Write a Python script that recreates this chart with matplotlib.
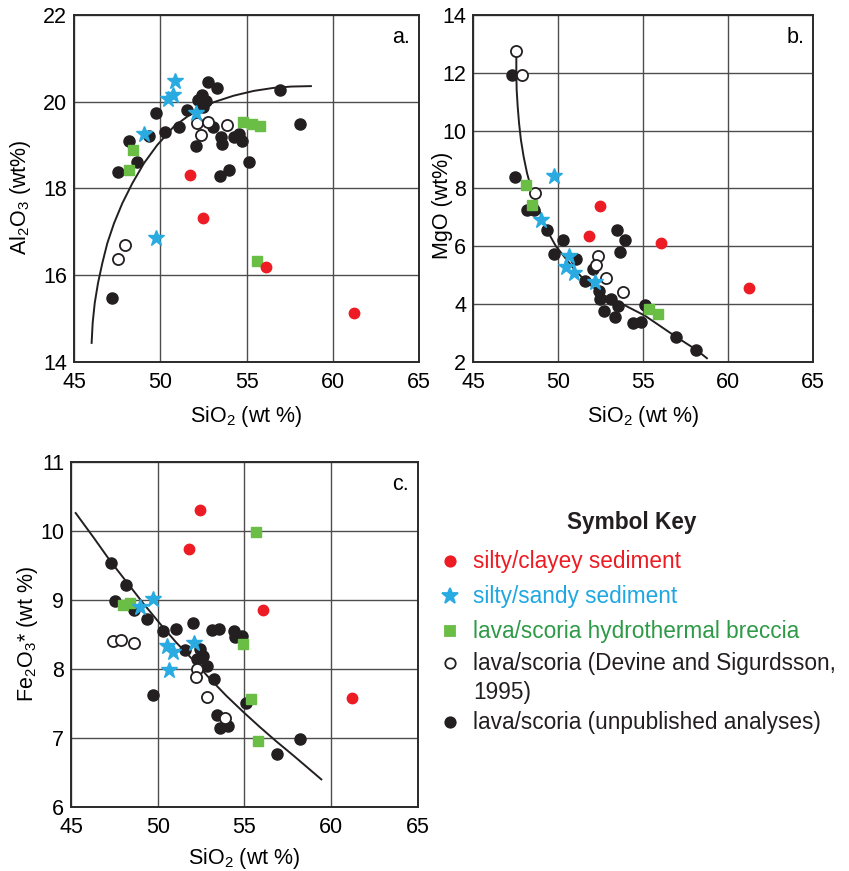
import numpy as np
import matplotlib
matplotlib.use('Agg')
import matplotlib.pyplot as plt

plt.rcParams['font.family'] = ['Liberation Sans', 'DejaVu Sans']
plt.rcParams['mathtext.fontset'] = 'custom'
plt.rcParams['mathtext.rm'] = 'Liberation Sans'
plt.rcParams['mathtext.it'] = 'Liberation Sans:italic'
plt.rcParams['mathtext.bf'] = 'Liberation Sans:bold'

RED = '#ed1c24'
BLUE = '#29abe2'
GREEN = '#6abd45'
BLACK = '#231f20'

# ---- panel a: Al2O3 vs SiO2 ----
a_black_x = [47.22, 47.53, 48.2, 48.67, 49.36, 49.75, 50.29, 51.08, 51.54, 52.05, 52.18, 52.39, 52.63,
             52.45, 52.76, 53.3, 53.07, 53.51, 53.59, 53.46, 54.0, 54.3, 54.56, 54.75, 55.17, 56.91, 58.07]
a_black_y = [15.48, 18.38, 19.1, 18.6, 19.21, 19.75, 19.3, 19.41, 19.82, 18.98, 20.04, 20.15, 20.02,
             19.87, 20.45, 20.32, 19.41, 19.19, 19.02, 18.28, 18.43, 19.18, 19.25, 19.1, 18.6, 20.27, 19.48]
a_open_x = [47.55, 47.93, 52.14, 52.78, 52.36, 53.84]
a_open_y = [16.38, 16.7, 19.52, 19.54, 19.24, 19.46]
a_star_x = [50.87, 50.75, 50.46, 49.03, 52.05, 49.75]
a_star_y = [20.48, 20.15, 20.07, 19.26, 19.73, 16.86]
a_sq_x = [48.44, 48.17, 54.81, 55.33, 55.79, 55.62]
a_sq_y = [18.88, 18.42, 19.54, 19.48, 19.45, 16.32]
a_red_x = [51.74, 52.49, 56.1, 61.2]
a_red_y = [18.3, 17.31, 16.2, 15.12]
a_fit_x = [46.02, 46.08, 46.2, 46.39, 46.64, 46.93, 47.32, 47.8, 48.38, 49.05, 49.82, 50.79,
           51.95, 53.1, 54.26, 55.42, 56.58, 57.6, 58.73]
a_fit_y = [14.44, 14.9, 15.36, 15.82, 16.28, 16.74, 17.2, 17.66, 18.12, 18.58, 19.0, 19.43,
           19.77, 19.99, 20.14, 20.25, 20.32, 20.35, 20.36]

# ---- panel b: MgO vs SiO2 ----
b_black_x = [47.27, 47.49, 48.18, 48.6, 49.35, 50.31, 49.78, 51.08, 51.59, 52.06, 52.39, 52.49,
             53.1, 52.73, 53.53, 53.35, 53.49, 53.92, 53.63, 54.4, 54.86, 55.12, 56.92, 58.14]
b_black_y = [11.94, 8.38, 7.24, 7.24, 6.57, 6.22, 5.75, 5.56, 4.81, 5.21, 4.46, 4.17,
             4.17, 3.78, 3.92, 3.55, 6.56, 6.21, 5.8, 3.34, 3.37, 3.97, 2.85, 2.4]
b_open_x = [47.53, 47.88, 48.63, 52.35, 52.25, 52.84, 53.84]
b_open_y = [12.74, 11.91, 7.86, 5.65, 5.36, 4.91, 4.41]
b_star_x = [49.76, 49.02, 50.67, 50.49, 50.94, 52.16]
b_star_y = [8.44, 6.9, 5.67, 5.3, 5.09, 4.75]
b_sq_x = [48.12, 48.45, 55.33, 55.88]
b_sq_y = [8.11, 7.43, 3.83, 3.67]
b_red_x = [52.49, 51.8, 56.08, 61.24]
b_red_y = [7.39, 6.35, 6.13, 4.56]
b_fit_x = [47.55, 47.55, 47.57, 47.63, 47.71, 47.82, 47.98, 48.18, 48.45, 48.81, 49.31, 49.88,
           50.29, 50.9, 51.59, 52.65, 53.63, 55.12, 56.92, 58.14, 58.76]
b_fit_y = [12.56, 11.98, 11.41, 10.83, 10.26, 9.68, 9.1, 8.53, 7.95, 7.38, 6.6, 6.0,
           5.7, 5.25, 4.81, 4.32, 4.05, 3.6, 2.88, 2.42, 2.13]

# ---- panel c: Fe2O3* vs SiO2 ----
c_black_x = [47.28, 48.19, 47.55, 48.61, 49.4, 50.3, 51.07, 52.02, 53.12, 53.52, 54.42, 54.48, 54.85,
             51.55, 52.43, 52.62, 52.24, 52.85, 53.25, 49.7, 55.11, 53.43, 53.58, 54.06, 56.88, 58.2]
c_black_y = [9.54, 9.22, 8.99, 8.85, 8.73, 8.55, 8.58, 8.67, 8.56, 8.58, 8.55, 8.46, 8.48,
             8.28, 8.29, 8.19, 8.14, 8.04, 7.86, 7.62, 7.5, 7.34, 7.14, 7.18, 6.77, 6.99]
c_open_x = [47.4, 47.86, 48.63, 52.24, 52.22, 52.85, 53.87]
c_open_y = [8.4, 8.42, 8.38, 8.0, 7.89, 7.59, 7.29]
c_star_x = [49.74, 48.97, 50.51, 50.89, 52.1, 50.64]
c_star_y = [9.01, 8.9, 8.33, 8.25, 8.38, 7.98]
c_sq_x = [47.99, 48.42, 55.67, 54.92, 55.36, 55.79]
c_sq_y = [8.93, 8.96, 9.98, 8.36, 7.56, 6.95]
c_red_x = [52.45, 51.78, 56.06, 61.18]
c_red_y = [10.3, 9.74, 8.86, 7.58]
c_fit_x = [45.27, 46.29, 47.25, 48.21, 49.17, 50.12, 51.08, 52.04, 53.0, 53.96, 54.92, 55.88,
           56.84, 57.8, 59.43]
c_fit_y = [10.26, 9.91, 9.57, 9.26, 8.95, 8.66, 8.38, 8.13, 7.86, 7.61, 7.38, 7.16,
           6.95, 6.75, 6.4]

key_labels = ['silty/clayey sediment', 'silty/sandy sediment', 'lava/scoria hydrothermal breccia',
              'lava/scoria (Devine and Sigurdsson,', 'lava/scoria (unpublished analyses)']
FS = 15.5
KFS = 16.3


def draw_panel(ax, fit, black, opn, sq, star, red, yticks, ylabel, letter):
    ax.plot(fit[0], fit[1], color=BLACK, lw=1.4, zorder=3)
    ax.plot(black[0], black[1], 'o', ms=8, color=BLACK, mec=BLACK, zorder=4)
    ax.plot(opn[0], opn[1], 'o', ms=8, mfc='white', mec=BLACK, mew=1.3, zorder=5)
    ax.plot(sq[0], sq[1], 's', ms=7.5, color=GREEN, zorder=6)
    ax.plot(star[0], star[1], '*', ms=12, color=BLUE, zorder=7)
    ax.plot(red[0], red[1], 'o', ms=7.5, color=RED, zorder=8)
    ax.set_xlim(45, 65)
    ax.set_ylim(yticks[0], yticks[-1])
    ax.set_xticks([45, 50, 55, 60, 65])
    ax.set_yticks(yticks)
    ax.grid(True, color='#4d4d4d', lw=1.0)
    ax.set_axisbelow(True)
    ax.tick_params(length=0, labelsize=FS, pad=5)
    ax.tick_params(axis='x', pad=7)
    for s in ax.spines.values():
        s.set_linewidth(1.4)
        s.set_color('#2a2a2a')
    ax.set_xlabel(r'SiO$_2$ (wt %)', fontsize=FS)
    ax.set_ylabel(ylabel, fontsize=FS)
    ax.text(0.975, 0.935, letter, transform=ax.transAxes, ha='right', va='center', fontsize=FS)


fig = plt.figure(figsize=(8.49, 8.71), dpi=100)
ax_a = fig.add_axes([0.0872, 0.5844, 0.4064, 0.3984])
ax_b = fig.add_axes([0.5571, 0.5844, 0.4005, 0.3984])
ax_c = fig.add_axes([0.0836, 0.0735, 0.4087, 0.3961])

draw_panel(ax_a, (a_fit_x, a_fit_y), (a_black_x, a_black_y), (a_open_x, a_open_y),
           (a_sq_x, a_sq_y), (a_star_x, a_star_y), (a_red_x, a_red_y),
           [14, 16, 18, 20, 22], r'Al$_2$O$_3$ (wt%)', 'a.')
draw_panel(ax_b, (b_fit_x, b_fit_y), (b_black_x, b_black_y), (b_open_x, b_open_y),
           (b_sq_x, b_sq_y), (b_star_x, b_star_y), (b_red_x, b_red_y),
           [2, 4, 6, 8, 10, 12, 14], 'MgO (wt%)', 'b.')
draw_panel(ax_c, (c_fit_x, c_fit_y), (c_black_x, c_black_y), (c_open_x, c_open_y),
           (c_sq_x, c_sq_y), (c_star_x, c_star_y), (c_red_x, c_red_y),
           [6, 7, 8, 9, 10, 11], r'Fe$_2$O$_3$* (wt %)', 'c.')

ax_a.yaxis.set_label_coords(-0.119, 0.475)
ax_b.yaxis.set_label_coords(-0.059, 0.452)
ax_c.yaxis.set_label_coords(-0.09, 0.5)
ax_a.xaxis.set_label_coords(0.5, -0.122)
ax_b.xaxis.set_label_coords(0.5, -0.122)
ax_c.xaxis.set_label_coords(0.5, -0.112)

# symbol key, laid out in figure pixels
key = fig.add_axes([0, 0, 1, 1])
key.set_xlim(0, 849)
key.set_ylim(871, 0)
key.axis('off')
key.text(632, 522, 'Symbol Key', ha='center', va='center', fontsize=KFS, fontweight='bold', color=BLACK)
key_y = [561, 596, 631, 663, 722]
key_marks = [('o', RED, RED, 7.5), ('*', BLUE, BLUE, 12), ('s', GREEN, GREEN, 7),
             ('o', 'white', BLACK, 7.5), ('o', BLACK, BLACK, 7.5)]
key_colors = [RED, '#1ea7e1', '#2e9a47', BLACK, BLACK]
for yy, (m, fc, ec, ms), lab, col in zip(key_y, key_marks, key_labels, key_colors):
    key.plot([450], [yy], m, ms=ms, mfc=fc, mec=ec, mew=1.3)
    key.text(473, yy, lab, ha='left', va='center', fontsize=KFS, color=col)
key.text(473, 692, '1995)', ha='left', va='center', fontsize=KFS, color=BLACK)

fig.savefig('out.png', dpi=100)
